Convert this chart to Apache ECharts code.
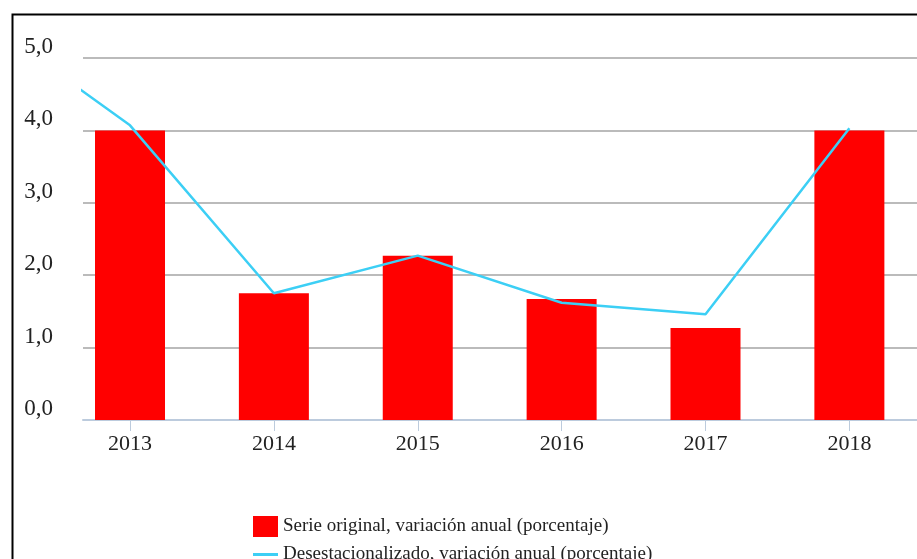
<html>
<head>
    <meta http-equiv="Content-Type" content="text/html; charset=utf-8" />
    <title>Variación anual</title>
    <style>
        body { margin: 0; background: #fff; }
        #container { width: 917px; height: 559px; }
    </style>
</head>
<body>
    <div id="container"></div>
    <script src="https://cdn.jsdelivr.net/npm/echarts@6/dist/echarts.min.js"></script>
    <script type="text/javascript">
    // años del eje x
    var years = [2013, 2014, 2015, 2016, 2017, 2018];
    // serie original, variación anual (barras)
    var serieOriginal = [4.0, 1.75, 2.27, 1.67, 1.27, 4.0];
    // desestacionalizado (línea); el primer punto es 2012, recortado por el borde
    var lineYears = [2012, 2013, 2014, 2015, 2016, 2017, 2018];
    var desestacionalizado = [5.5, 4.07, 1.75, 2.27, 1.62, 1.46, 4.03];

    var font = '"Liberation Serif", "Times New Roman", serif';
    var nameBar = 'Serie original, variación anual (porcentaje)';
    var nameLine = 'Desestacionalizado, variación anual (porcentaje)';

    var barData = [];
    for (var i = 0; i < years.length; i++) {
        barData.push([years[i], serieOriginal[i]]);
    }
    var lineData = [];
    for (var j = 0; j < lineYears.length; j++) {
        lineData.push([lineYears[j], desestacionalizado[j]]);
    }

    var myChart = echarts.init(document.getElementById('container'));

    var legendText = { fontFamily: font, fontSize: 19, color: '#222' };

    var option = {
        animation: false,
        backgroundColor: '#fff',
        graphic: [{
            type: 'rect',
            left: 10,
            top: 12,
            shape: { width: 940, height: 600 },
            style: { fill: 'none', stroke: '#000', lineWidth: 2 },
            z: 100
        }],
        grid: {
            left: 83,
            right: 0,
            top: 58,
            bottom: 139
        },
        legend: [{
            left: 248,
            top: 511,
            itemWidth: 25,
            itemHeight: 21,
            itemGap: 8,
            textStyle: legendText,
            data: [{ name: nameBar, icon: 'rect' }]
        }, {
            left: 248,
            top: 540,
            itemWidth: 25,
            itemHeight: 3,
            textStyle: legendText,
            data: [{ name: nameLine, icon: 'rect' }]
        }],
        xAxis: {
            type: 'value',
            min: 2012.6733,
            max: 2018.470,
            splitLine: { show: false },
            axisLine: { show: true, lineStyle: { color: '#bccbdd', width: 2 } },
            axisTick: {
                show: true,
                length: 11,
                customValues: years,
                lineStyle: { color: '#bccbdd', width: 1 }
            },
            axisLabel: {
                customValues: years,
                margin: 13,
                fontFamily: font,
                fontSize: 22,
                color: '#222',
                formatter: function (v) { return String(v); }
            }
        },
        yAxis: {
            type: 'value',
            min: 0,
            max: 5,
            interval: 1,
            axisLine: { show: false },
            axisTick: { show: false },
            splitLine: { lineStyle: { color: '#bbbbbb', width: 2 } },
            axisLabel: {
                margin: 30,
                fontFamily: font,
                fontSize: 23,
                lineHeight: 22,
                color: '#222',
                verticalAlign: 'middle',
                // segunda línea vacía: sube la etiqueta sobre la línea de la cuadrícula
                formatter: function (v) { return v.toFixed(1).replace('.', ',') + '\n '; }
            }
        },
        series: [{
            name: nameBar,
            type: 'bar',
            barWidth: 70,
            itemStyle: { color: '#ff0000' },
            data: barData
        }, {
            name: nameLine,
            type: 'line',
            symbol: 'none',
            clip: true,
            lineStyle: { color: '#3ccff5', width: 2.5 },
            itemStyle: { color: '#3ccff5' },
            data: lineData
        }]
    };

    myChart.setOption(option);
    </script>
</body>
</html>
